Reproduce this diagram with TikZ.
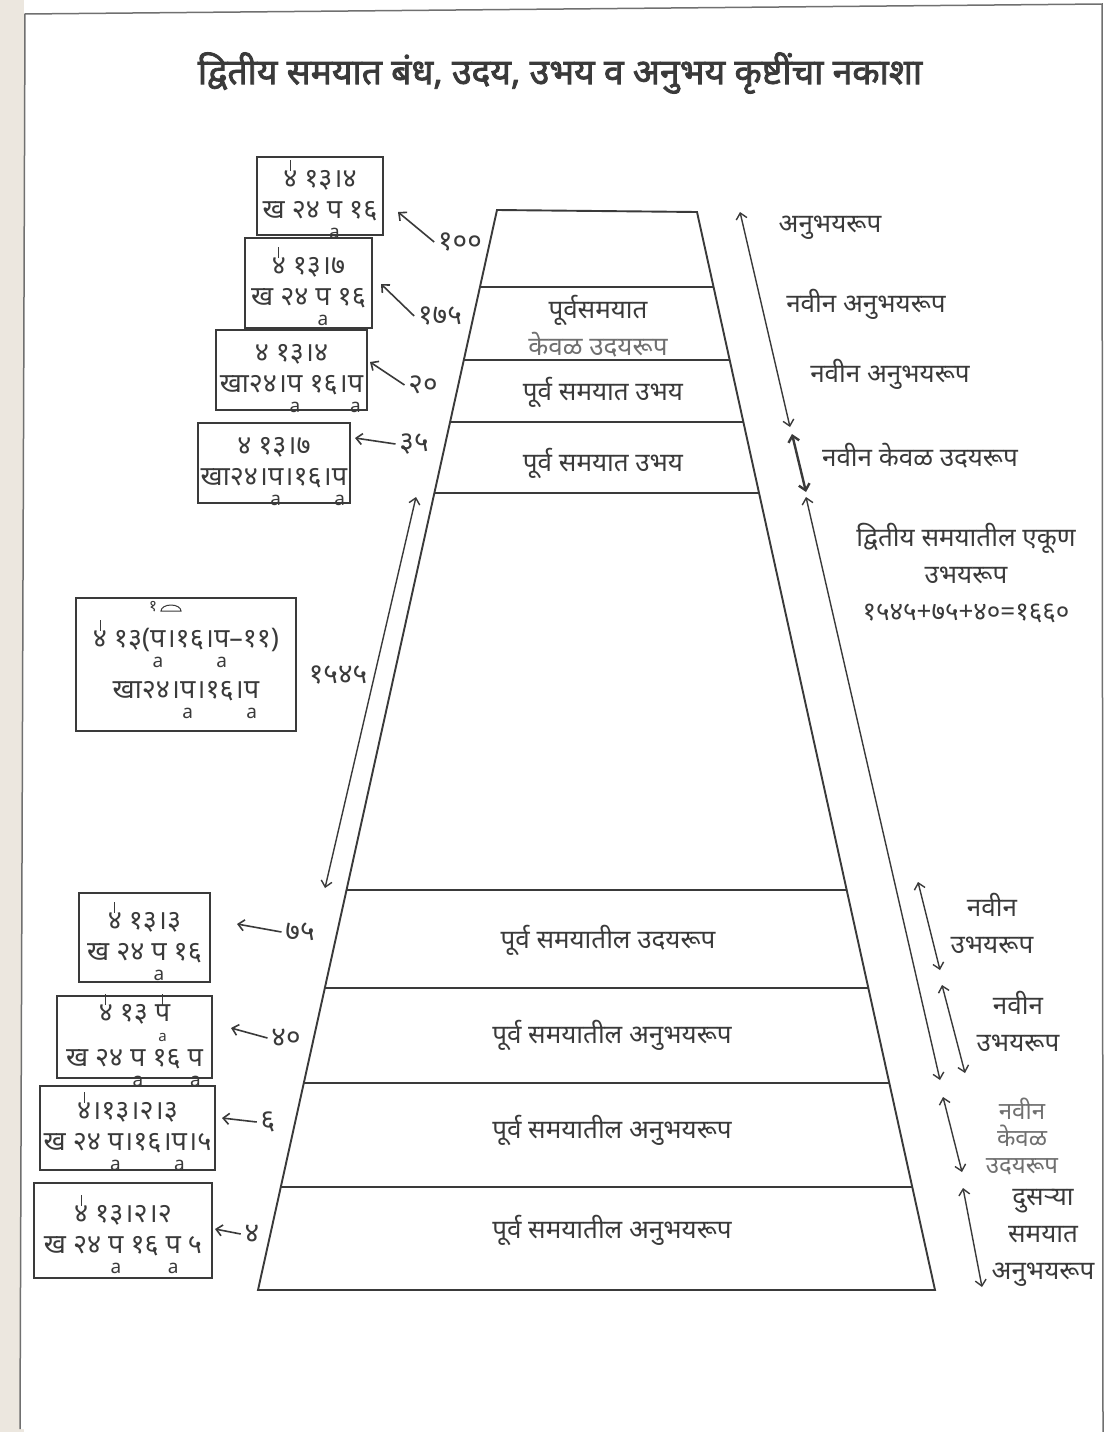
\documentclass[tikz,border=0pt]{standalone}
\usepackage{fontspec}
\usetikzlibrary{arrows.meta}
\setmainfont{Noto Sans}[Script=Devanagari]
\newfontfamily\titlefont{Noto Sans}[Script=Devanagari, FakeBold=2.2]
\newfontfamily\latinfont{Noto Sans}
\definecolor{ink}{HTML}{3A3A3A}
\definecolor{faint}{HTML}{707070}
\definecolor{paper}{HTML}{ECE7DF}
% stacked a under a letter, and the small tick above
\newcommand{\pa}[1]{\ooalign{#1\cr\hidewidth\smash{\raisebox{-0.74em}{\latinfont\fontsize{19}{19}\selectfont a}}\hidewidth\cr}}
\newcommand{\pb}[1]{\ooalign{#1\cr\hidewidth\smash{\raisebox{-0.72em}{\latinfont\fontsize{15}{15}\selectfont a}}\hidewidth\cr}}
\newcommand{\tk}[1]{\ooalign{#1\cr\hidewidth\smash{\rule[0.62em]{0.9pt}{0.4em}}\hidewidth\cr}}
\begin{document}
\begin{tikzpicture}[x=1pt, y=-1pt, line width=1.3pt, draw=ink,
    >={Straight Barb[length=6pt, width=11pt]},
    box/.style={draw=ink, line width=1.8pt, inner sep=0pt, align=center, text=ink, font=\fontsize{27}{31}\selectfont},
    lbl/.style={text=ink, align=center, font=\fontsize{26}{37}\selectfont},
    num/.style={text=ink, font=\fontsize{28}{30}\selectfont},
    span/.style={<->, line width=1.4pt}]
      \useasboundingbox (0,0) rectangle (1112,1432);
      \fill [paper] (0,0) rectangle (24,1432);
      \fill [white] (25,14) -- (1102,4) -- (1103,1432) -- (20,1429) -- cycle;
      \draw [faint, line width=1.5pt] (20,1429) -- (25,14) -- (1102,4) -- (1103,1432);

      \node [text=ink, font=\titlefont\fontsize{35.5}{38}\selectfont] (title) at (560,73) {द्वितीय समयात बंध, उदय, उभय व अनुभय कृष्टींचा नकाशा};

      % the trapezoid and its layers
      \draw [line width=1.9pt] (497,210) -- (697,212) -- (935,1290) -- (258,1290) -- cycle;
      \draw [line width=1.6pt] (480,287) -- (714,287);
      \draw [line width=1.6pt] (463.8,360) -- (730.1,360);
      \draw [line width=1.6pt] (450.1,422) -- (743.7,422);
      \draw [line width=1.6pt] (434.4,493) -- (759.4,493);
      \draw [line width=1.6pt] (346.5,890) -- (846.9,890);
      \draw [line width=1.6pt] (324.8,988) -- (868.5,988);
      \draw [line width=1.6pt] (303.8,1083) -- (889.4,1083);
      \draw [line width=1.6pt] (280.8,1187) -- (912.3,1187);

      \node [lbl] (c1) at (598,326) {पूर्वसमयात\\\textcolor{faint}{केवळ उदयरूप}};
      \node [lbl] (c2) at (603,392) {पूर्व समयात उभय};
      \node [lbl] (c3) at (603,463) {पूर्व समयात उभय};
      \node [lbl] (c4) at (608,940) {पूर्व समयातील उदयरूप};
      \node [lbl] (c5) at (612,1035) {पूर्व समयातील अनुभयरूप};
      \node [lbl] (c6) at (612,1130) {पूर्व समयातील अनुभयरूप};
      \node [lbl] (c7) at (612,1230) {पूर्व समयातील अनुभयरूप};

      % boxes on the left
      \node [box, minimum width=126pt, minimum height=78pt] (b1) at (320,196) {\tk{४} १३।४\\ख २४ \pa{प} १६};
      \node [box, minimum width=127pt, minimum height=90pt] (b2) at (308.5,283) {\tk{४} १३।७\\ख २४ \pa{प} १६};
      \node [box, minimum width=151pt, minimum height=80pt] (b3) at (291.5,370) {४ १३।४\\खा२४।\pa{प} १६।\pa{प}};
      \node [box, minimum width=152pt, minimum height=80pt] (b4) at (274,463) {४ १३।७\\खा२४।\pa{प}।१६।\pa{प}};
      \node [box, minimum width=220pt, minimum height=133pt] (b5) at (186,664.5) {\tk{४} १३(\pa{प}।१६।\pa{प}–११)\\[20pt]खा२४।\pa{प}।१६।\pa{प}};
      \node [box, minimum width=131pt, minimum height=89pt] (b6) at (144.5,937.5) {\tk{४} १३।३\\ख २४ \pa{प} १६};
      \node [box, minimum width=155pt, minimum height=82pt] (b7) at (134.5,1037) {\tk{४} १३ \pb{\tk{प}}\\[14pt]ख २४ \pa{प} १६ \pa{प}};
      \node [box, minimum width=175pt, minimum height=84pt] (b8) at (127.5,1128) {\tk{४}।१३।२।३\\ख २४ \pa{प}।१६।\pa{प}।५};
      \node [box, minimum width=178pt, minimum height=95pt] (b9) at (123,1230.5) {\tk{४} १३।२।२\\ख २४ \pa{प} १६ \pa{प} ५};
      \node [text=ink, font=\fontsize{16}{16}\selectfont] (s5) at (153,607) {१};
      \draw [line width=1pt] (161,611) arc (180:360:10 and 6) -- cycle;

      % numbers and their arrows
      \node [num] (n100) at (460,242) {१००};
      \node [num] (n175) at (440,316) {१७५};
      \node [num] (n20) at (423,385) {२०};
      \node [num] (n35) at (414,444) {३५};
      \node [num] (n1545) at (338,675) {१५४५};
      \node [num] (n75) at (300,932) {७५};
      \node [num] (n40) at (286,1038) {४०};
      \node [num] (n6) at (268,1122) {६};
      \node [num] (n4) at (252,1234) {४};
      \coordinate (t100) at (398,212);
      \coordinate (t175) at (381,284);
      \coordinate (t20) at (370,362);
      \coordinate (t35) at (355,438);
      \coordinate (t75) at (237,924);
      \coordinate (t40) at (231,1028);
      \coordinate (t6) at (222,1118);
      \coordinate (t4) at (215,1229);
      \draw [->, line width=1.6pt] (n100.west) -- (t100);
      \draw [->, line width=1.6pt] (n175.west) -- (t175);
      \draw [->, line width=1.6pt] (n20.west) -- (t20);
      \draw [->, line width=1.6pt] (n35.west) -- (t35);
      \draw [->, line width=1.6pt] (n75.west) -- (t75);
      \draw [->, line width=1.6pt] (n40.west) -- (t40);
      \draw [->, line width=1.6pt] (n6.west) -- (t6);
      \draw [->, line width=1.6pt] (n4.west) -- (t4);

      % spans
      \coordinate (p1) at (416,497);
      \coordinate (p2) at (325,888);
      \draw [span] (p1) -- (p2);
      \coordinate (q1) at (740,212);
      \coordinate (q2) at (790,427);
      \coordinate (q3) at (792,434);
      \coordinate (q4) at (806,492);
      \coordinate (q5) at (806,497);
      \coordinate (q6) at (940,1080);
      \coordinate (q7) at (918,882);
      \coordinate (q8) at (940,970);
      \coordinate (q9) at (942,985);
      \coordinate (q10) at (965,1073);
      \coordinate (q11) at (943,1097);
      \coordinate (q12) at (962,1172);
      \coordinate (q13) at (963,1188);
      \coordinate (q14) at (982,1287);
      \draw [span] (q1) -- (q2);
      \draw [span, line width=2.4pt] (q3) -- (q4);
      \draw [span] (q5) -- (q6);
      \draw [span] (q7) -- (q8);
      \draw [span] (q9) -- (q10);
      \draw [span] (q11) -- (q12);
      \draw [span] (q13) -- (q14);

      \node [lbl] (r1) at (830,228) {अनुभयरूप};
      \node [lbl] (r2) at (866,304) {नवीन अनुभयरूप};
      \node [lbl] (r3) at (890,374) {नवीन अनुभयरूप};
      \node [lbl] (r4) at (920,456) {नवीन केवळ उदयरूप};
      \node [lbl] (r5) at (966,573) {द्वितीय समयातील एकूण\\उभयरूप\\१५४५+७५+४०=१६६०};
      \node [lbl] (r6) at (992,923) {नवीन\\उभयरूप};
      \node [lbl] (r7) at (1018,1021) {नवीन\\उभयरूप};
      \node [lbl, text=faint, font=\fontsize{24}{27}\selectfont] (r8) at (1022,1137) {नवीन\\केवळ\\उदयरूप};
      \node [lbl] (r9) at (1043,1238) {दुसऱ्या\\समयात\\अनुभयरूप};
\end{tikzpicture}
\end{document}
